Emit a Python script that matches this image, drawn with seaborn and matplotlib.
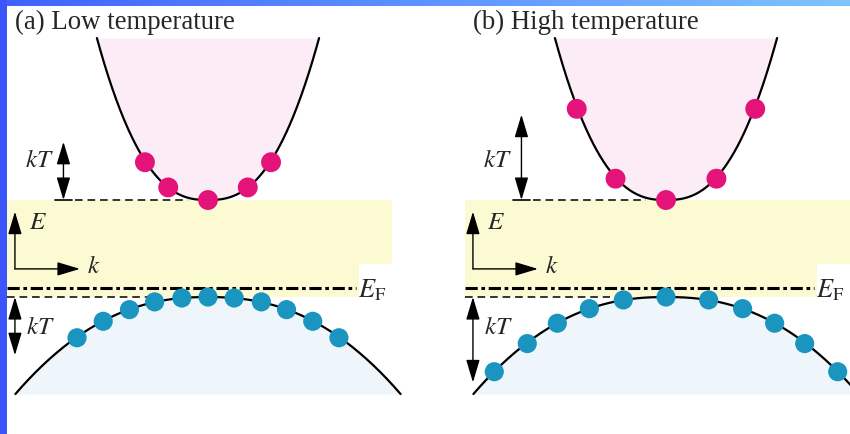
import numpy as np
import matplotlib
matplotlib.use("Agg")
import matplotlib.pyplot as plt
from matplotlib.patches import Rectangle
from matplotlib.colors import LinearSegmentedColormap
import seaborn as sns

# Energies in units of the band gap: valence-band top at 0, conduction-band bottom at 1.
E_V, E_C = 0.0, 1.0
E_FERMI = 0.09

# Model dispersion E(k) for the two bands
CB_COEF, CB_POWER, CB_TOP = 1.19, 2.5, 2.67
VB_COEF, VB_POWER, VB_BOTTOM = 0.2065, 2.3, -1.0

panel_titles = ["(a) Low temperature", "(b) High temperature"]
kT_values = [0.60, 0.88]

# Electrons excited into the conduction band
cb_k_low = [-0.65, -0.41, 0.0, 0.41, 0.65]
cb_E_low = [1.39, 1.13, 1.00, 1.13, 1.39]
cb_k_high = [-0.92, -0.52, 0.0, 0.52, 0.92]
cb_E_high = [1.94, 1.22, 1.00, 1.22, 1.94]

# Electrons near the top of the valence band
vb_k_low = [-1.35, -1.08, -0.81, -0.55, -0.27, 0.0, 0.27, 0.55, 0.81, 1.08, 1.35]
vb_E_low = [-0.42, -0.25, -0.13, -0.05, -0.01, 0.0, -0.01, -0.05, -0.13, -0.25, -0.42]
vb_k_high = [-1.77, -1.43, -1.12, -0.79, -0.44, 0.0, 0.44, 0.79, 1.12, 1.43, 1.77]
vb_E_high = [-0.77, -0.48, -0.27, -0.12, -0.03, 0.0, -0.03, -0.12, -0.27, -0.48, -0.77]

GAP_COLOR = "#fcfad2"
CB_FILL = "#fcecf6"
VB_FILL = "#eff6fb"
CB_DOT = "#e3137a"
VB_DOT = "#1a95bf"

sns.set_theme(style="white")
plt.rcParams["font.family"] = ["Liberation Serif", "DejaVu Serif"]
plt.rcParams["mathtext.fontset"] = "stix"

fig = plt.figure(figsize=(8.5, 4.34), dpi=100)

K_LIM = (-2.144, 2.237)
E_LIM = (-1.412, 3.062)
GAP_LEFT, GAP_RIGHT = -2.07, 1.90
LABEL_NOTCH = 1.56

HEAD = "head_length=1.4,head_width=0.42"


def arrow(ax, start, end, style):
    ax.annotate("", xy=end, xytext=start,
                arrowprops=dict(arrowstyle=f"{style},{HEAD}", mutation_scale=10,
                                lw=1.0, color="black", shrinkA=0, shrinkB=0),
                zorder=6)


def draw_panel(ax, title, kT, cb_k, cb_E, vb_k, vb_E):
    ax.set_xlim(*K_LIM)
    ax.set_ylim(*E_LIM)
    ax.axis("off")

    # band gap region
    ax.add_patch(Rectangle((GAP_LEFT, E_V), GAP_RIGHT - GAP_LEFT, E_C - E_V,
                           fc=GAP_COLOR, ec="none", zorder=0))
    ax.add_patch(Rectangle((LABEL_NOTCH, E_V), 0.6, 0.34, fc="white", ec="none", zorder=0.5))

    # conduction band
    k_max_c = ((CB_TOP - E_C) / CB_COEF) ** (1 / CB_POWER)
    k_c = np.linspace(-k_max_c, k_max_c, 400)
    E_c = E_C + CB_COEF * np.abs(k_c) ** CB_POWER
    ax.fill_between(k_c, E_c, CB_TOP, color=CB_FILL, lw=0, zorder=1)
    sns.lineplot(x=k_c, y=E_c, color="black", linewidth=1.6, ax=ax,
                 sort=False, estimator=None, zorder=3)

    # valence band
    k_max_v = ((E_V - VB_BOTTOM) / VB_COEF) ** (1 / VB_POWER)
    k_v = np.linspace(-k_max_v, k_max_v, 400)
    E_v = E_V - VB_COEF * np.abs(k_v) ** VB_POWER
    ax.fill_between(k_v, E_v, VB_BOTTOM, color=VB_FILL, lw=0, zorder=1)
    sns.lineplot(x=k_v, y=E_v, color="black", linewidth=1.6, ax=ax,
                 sort=False, estimator=None, zorder=3)

    # electrons
    sns.scatterplot(x=cb_k, y=cb_E, s=205, color=CB_DOT, edgecolor="none",
                    ax=ax, zorder=4, legend=False)
    sns.scatterplot(x=vb_k, y=vb_E, s=190, color=VB_DOT, edgecolor="none",
                    ax=ax, zorder=4, legend=False)

    # Fermi level
    ax.plot([GAP_LEFT, 1.53], [E_FERMI, E_FERMI], color="black", lw=2.2,
            dashes=(4.0, 1.2, 1.2, 1.2), zorder=2)
    ax.text(1.55, E_FERMI - 0.02, r"$E_{\mathrm{F}}$", fontsize=19,
            ha="left", va="center", zorder=6)

    # band edge guides
    ax.plot([GAP_LEFT, -0.58], [E_V, E_V], color="black", lw=1.1,
            dashes=(5.0, 3.2), zorder=2)
    ax.plot([-1.37, -0.21], [E_C, E_C], color="black", lw=1.1,
            dashes=(5.0, 3.2), zorder=2)
    ax.plot([-1.58, -1.40], [E_C, E_C], color="black", lw=1.2, zorder=2)

    # kT arrows
    arrow(ax, (-1.49, E_C), (-1.49, E_C + kT), "<|-|>")
    ax.text(-1.59, E_C + 0.40, r"$kT$", fontsize=18, ha="right", va="center")
    arrow(ax, (-1.99, E_V), (-1.99, E_V - kT), "<|-|>")
    ax.text(-1.88, E_V - 0.32, r"$kT$", fontsize=18, ha="left", va="center")

    # E-k axes sketch
    arrow(ax, (-1.99, 0.29), (-1.99, 0.88), "-|>")
    arrow(ax, (-1.99, 0.29), (-1.32, 0.29), "-|>")
    ax.text(-1.84, 0.76, r"$E$", fontsize=18, ha="left", va="center")
    ax.text(-1.25, 0.31, r"$k$", fontsize=18, ha="left", va="center")

    ax.text(-1.99, 2.83, title, fontsize=19.3, ha="left", va="center")


ax_a = fig.add_axes([0.0, 0.0, 0.5, 1.0])
ax_b = fig.add_axes([458 / 850, 0.0, 0.5, 1.0])
draw_panel(ax_a, panel_titles[0], kT_values[0], cb_k_low, cb_E_low, vb_k_low, vb_E_low)
draw_panel(ax_b, panel_titles[1], kT_values[1], cb_k_high, cb_E_high, vb_k_high, vb_E_high)

# slide frame: solid left bar and a gradient strip along the top
fig.add_artist(Rectangle((0, 0), 7 / 850, 1, transform=fig.transFigure,
                         fc="#3a55fc", ec="none", zorder=10))
ax_top = fig.add_axes([0, 1 - 6 / 434, 1, 6 / 434])
ax_top.imshow(np.linspace(0, 1, 256)[None, :], aspect="auto",
              cmap=LinearSegmentedColormap.from_list("frame", ["#3f62fe", "#7fc3ff"]))
ax_top.axis("off")

fig.savefig("out.png", dpi=100)
